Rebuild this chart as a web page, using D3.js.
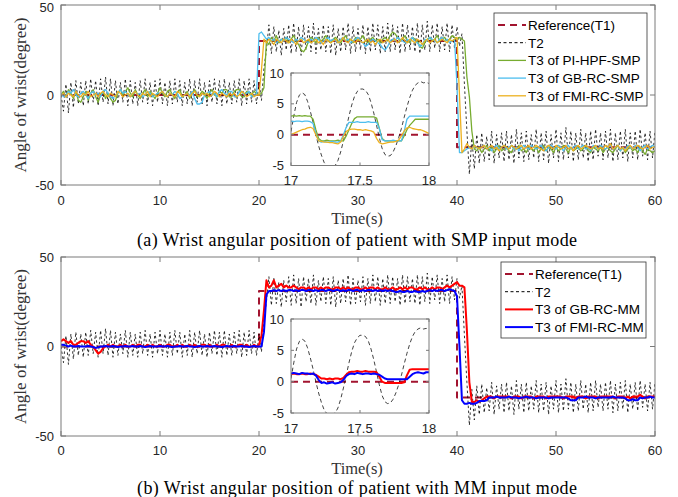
<!DOCTYPE html>
<html>
<head>
<meta charset="utf-8">
<script src="https://cdn.jsdelivr.net/npm/d3@7"></script>
<style>
body { margin: 0; background: #fff; }
</style>
</head>
<body>
<div id="chart"></div>
<script>
// values
// main plots: one sample every 0.25 s from 0 to 60 s
var timeStep = 0.25;
// insets: one sample every 0.02 s from 17 to 18 s
var insetStart = 17;
var insetStep = 0.02;

var refTimes = [0, 20, 20, 40, 40, 60];
var refA = [0, 0, 30, 30, -29, -29];
var refB = [0, 0, 31, 31, -28.5, -28.5];
var refInsetTimes = [17, 18];
var refInset = [0, 0];

// T2 (patient hand), alternating crests and troughs
var t2Main = [
  0, -9, 6, -10, 7, -7, 8, -5, 7, -6,
  8, -5, 9, -4, 8, -6, 9, -4, 10, -5,
  9, -6, 8, -5, 7, -4, 9, -6, 8, -5,
  7, -6, 8, -4, 9, -5, 7, -6, 8, -4,
  9, -5, 7, -6, 8, -5, 9, -4, 8, -6,
  7, -5, 9, -6, 8, -4, 9, -5, 7, -6,
  8, -4, 9, -5, 8, -6, 9, -5, 7, -5,
  8, -4, 9, -6, 8, -5, 9, -4, 8, -5,
  7, -3, 15, 25, 39, 23, 38, 24, 36, 22,
  37, 25, 39, 23, 40, 24, 38, 22, 39, 25,
  38, 24, 40, 23, 37, 25, 39, 24, 38, 23,
  39, 22, 37, 24, 38, 25, 40, 23, 38, 24,
  37, 25, 39, 23, 38, 24, 40, 25, 39, 23,
  38, 24, 40, 24, 39, 25, 38, 23, 40, 24,
  39, 25, 38, 24, 40, 23, 39, 25, 41, 24,
  39, 26, 40, 24, 38, 25, 40, 24, 39, 26,
  38, 27, 34, 6, -20, -44, -24, -41, -22, -38,
  -21, -37, -23, -36, -20, -38, -22, -35, -21, -37,
  -20, -36, -22, -38, -19, -35, -21, -37, -20, -36,
  -22, -35, -19, -37, -21, -36, -20, -38, -22, -35,
  -19, -37, -21, -36, -18, -35, -20, -37, -21, -36,
  -19, -35, -21, -37, -20, -36, -19, -34, -21, -36,
  -20, -35, -19, -37, -21, -36, -20, -35, -19, -37,
  -21, -35, -20, -36, -19, -34, -21, -36, -20, -35,
  -20
];

// T3 of PI-HPF-SMP
var greenA = [
  0, 2, -1, 3, 1, -2, 2, -3, -4, -1,
  2, -3, 1, 3, -1, -4, 0, 2, -2, 1,
  -2, -4, -3, 1, 3, 0, 2, 4, 1, -1,
  3, 0, -2, 1, 3, -1, 2, 0, -2, 1,
  4, 1, -1, 2, 3, 0, -2, 1, 3, -1,
  0, 2, -2, 1, 3, -1, 0, 2, 1, -2,
  1, 3, 0, -1, 2, 1, 3, 3, -1, -1,
  2, 3, 3, -1, -1, 2, 1, 0, 2, 1,
  0, 1, 4, 30, 28, 32, 30, 33, 29, 31,
  30, 32, 29, 31, 33, 30, 28, 25, 24, 26,
  30, 32, 31, 29, 32, 30, 31, 33, 30, 29,
  31, 32, 30, 29, 31, 33, 30, 31, 29, 32,
  30, 31, 33, 30, 29, 31, 32, 30, 31, 29,
  31, 32, 30, 33, 35, 34, 32, 30, 31, 33,
  30, 29, 32, 31, 30, 27, 26, 29, 31, 32,
  30, 31, 33, 30, 31, 32, 30, 31, 33, 32,
  31, 32, 31, 30, 10, -1, -20, -30, -31, -29,
  -32, -30, -28, -31, -29, -32, -30, -28, -31, -30,
  -29, -31, -32, -29, -30, -28, -31, -30, -32, -29,
  -30, -31, -29, -32, -30, -28, -31, -29, -30, -32,
  -29, -31, -30, -28, -30, -32, -29, -31, -30, -29,
  -31, -30, -28, -31, -32, -29, -30, -31, -29, -32,
  -30, -29, -31, -32, -30, -28, -31, -29, -32, -30,
  -29, -31, -30, -32, -29, -31, -33, -30, -31, -32,
  -31
];

// T3 of GB-RC-SMP
var cyanA = [
  1, -1, 0, 2, 1, 3, 0, -1, 1, 2,
  0, -2, 1, 2, 0, 1, -1, 2, 3, 1,
  -1, -2, 0, 1, 3, 1, 2, 0, -1, 1,
  2, 0, 1, -1, 0, 2, 1, -1, 0, 1,
  1, 2, 0, -1, 1, 0, 2, 1, -2, -1,
  0, 1, 0, 2, -2, -5, -5, -4, 0, 1,
  2, 0, 1, -1, 2, 3, 1, 0, 2, 2,
  -1, -1, 2, 2, 0, 1, 2, -1, 0, 0,
  34, 35, 33, 31, 32, 30, 31, 29, 30, 31,
  30, 32, 31, 30, 29, 31, 30, 32, 31, 30,
  29, 31, 30, 32, 31, 29, 30, 31, 32, 30,
  31, 30, 29, 31, 32, 30, 31, 29, 30, 31,
  32, 30, 29, 27, 28, 30, 31, 30, 29, 28,
  26, 25, 27, 30, 31, 30, 32, 31, 30, 29,
  31, 30, 32, 30, 29, 27, 28, 31, 30, 32,
  31, 30, 29, 31, 32, 30, 31, 29, 30, 31,
  5, -32, -32, -31, -30, -29, -30, -28, -29, -30,
  -29, -28, -30, -29, -31, -29, -28, -30, -29, -28,
  -30, -29, -28, -30, -29, -31, -29, -28, -29, -30,
  -28, -29, -30, -29, -28, -30, -31, -29, -28, -29,
  -30, -28, -29, -31, -29, -28, -30, -29, -28, -30,
  -29, -28, -30, -29, -31, -28, -29, -30, -28, -29,
  -30, -29, -28, -30, -29, -28, -31, -29, -30, -28,
  -29, -30, -28, -29, -31, -29, -28, -30, -29, -28,
  -29
];

// T3 of FMI-RC-SMP
var yellowA = [
  0, 1, -1, 1, 0, -1, 2, 0, -1, 1,
  0, 2, -1, 0, 1, -1, 1, 2, 0, -1,
  1, 0, -1, 2, 1, -1, 0, 1, -1, 1,
  2, 0, -1, 1, 0, 2, -1, 1, 0, -1,
  1, 2, 0, -1, 1, 0, -1, 2, 1, -1,
  0, 1, -1, 1, 2, 0, -1, 1, 0, 1,
  -1, 0, 2, 1, -1, 1, 0, -1, 1, 0,
  1, -1, 0, 2, 1, -1, 0, 1, -1, 0,
  0, 14, 31, 29, 31, 30, 28, 31, 30, 29,
  31, 30, 29, 31, 30, 28, 30, 31, 29, 30,
  31, 29, 30, 31, 29, 30, 28, 31, 30, 29,
  30, 31, 29, 30, 32, 30, 29, 31, 30, 29,
  31, 30, 29, 30, 31, 29, 30, 28, 30, 31,
  29, 30, 31, 29, 30, 31, 29, 30, 32, 30,
  29, 31, 30, 29, 31, 30, 28, 30, 31, 29,
  30, 31, 29, 30, 31, 30, 29, 31, 30, 31,
  32, 0, -32, -30, -27, -29, -30, -28, -29, -30,
  -29, -28, -30, -29, -28, -30, -29, -31, -29, -28,
  -29, -30, -28, -29, -30, -29, -28, -30, -29, -28,
  -30, -29, -28, -29, -30, -31, -29, -28, -29, -30,
  -28, -29, -30, -29, -28, -30, -29, -31, -29, -28,
  -30, -29, -28, -29, -30, -29, -28, -30, -29, -30,
  -28, -29, -27, -30, -29, -28, -30, -29, -31, -29,
  -28, -30, -29, -28, -29, -30, -29, -28, -30, -29,
  -29
];

// T3 of GB-RC-MM
var redB = [
  3, 4, 3, 2, 3, 1, 1, 2, 3, 3,
  2, 3, 1, 0, -2, -4, -3, -1, 0, 1,
  0, 1, 0, 0, 1, 0, 1, 0, 0, 1,
  0, 1, 1, 0, 0, 1, 0, 1, 0, 0,
  1, 0, 0, 1, 1, 0, 0, 1, 0, 1,
  0, 0, 1, 0, 1, 0, 0, 1, 1, 0,
  1, 0, 0, 1, 0, 1, 1, 0, 0, 1,
  0, 0, 1, 1, 0, 1, 0, 0, 1, 0,
  1, 6, 20, 37, 33, 34, 37, 33, 34, 35,
  33, 34, 33, 33, 34, 33, 32, 33, 33, 32,
  33, 32, 33, 33, 32, 33, 32, 33, 33, 32,
  32, 33, 33, 32, 33, 32, 33, 32, 32, 33,
  33, 32, 32, 33, 32, 33, 33, 32, 33, 32,
  32, 33, 32, 32, 33, 32, 32, 33, 32, 33,
  32, 33, 33, 32, 32, 33, 32, 33, 32, 32,
  33, 32, 33, 33, 32, 33, 34, 33, 34, 35,
  36, 34, 34, 33, 9, -20, -31, -31, -30, -31,
  -30, -29, -28, -28, -28, -29, -28, -28, -28, -28,
  -28, -28, -29, -28, -28, -28, -29, -28, -28, -28,
  -28, -29, -28, -28, -28, -28, -29, -28, -28, -28,
  -28, -28, -28, -29, -28, -28, -28, -28, -29, -28,
  -28, -28, -29, -28, -28, -28, -28, -29, -28, -28,
  -28, -28, -28, -28, -29, -28, -28, -28, -29, -28,
  -29, -28, -28, -28, -27, -28, -29, -28, -28, -28,
  -28
];

// T3 of FMI-RC-MM
var blueB = [
  1, 1, 0.5, 0, 0.5, 0, 0, 0.3, 0, 0,
  0, 0.3, 0, -0.3, -0.8, -0.5, 0, 0, 0.3, 0,
  0, 0.3, 0, -0.3, 0, 0, 0.3, 0, 0, 0.3,
  0, 0, 0.3, 0, -0.3, 0, 0.3, 0, 0, 0,
  0.3, 0, 0, 0.3, 0, -0.3, 0, 0, 0.3, 0,
  0, 0.3, 0, 0, -0.3, 0, 0.3, 0, 0, 0.3,
  0, 0, 0.3, 0, 0, -0.3, 0, 0.3, 0, 0,
  0.3, 0, 0, 0.3, 0, 0, -0.3, 0, 0.3, 0,
  0, 0, 8, 29, 31, 31, 31.5, 31, 31.5, 31,
  31.5, 31, 31.5, 31.5, 31, 31.5, 31, 31.5, 31.5, 31,
  31.5, 31.5, 31, 31.5, 31, 31.5, 31.5, 31, 31.5, 31.5,
  31, 31.5, 31.5, 31, 31.5, 31, 31.5, 31.5, 31, 31.5,
  31.5, 31, 31.5, 31, 31.5, 31.5, 31, 31.5, 31, 31.5,
  31, 31.5, 31, 31.5, 31, 30.5, 30.5, 31, 30.5, 30.5,
  31, 30.5, 30.5, 31, 30.5, 30.5, 31, 30.5, 31, 31.5,
  31, 31.5, 31, 31.5, 31.5, 31, 31.5, 32, 31.5, 31,
  28, 0, -30, -32, -32, -31.5, -32, -32, -31.5, -30.5,
  -30.5, -30.5, -30, -28.5, -28.5, -28.5, -28, -28.5, -28.5, -28.5,
  -28.5, -28, -28.5, -28.5, -28.5, -29, -28.5, -28.5, -28, -28.5,
  -28.5, -28.5, -29, -28.5, -28.5, -28.5, -28.5, -29, -28.5, -28.5,
  -28.5, -28.5, -28.5, -28.5, -28.5, -29, -30, -30, -30, -28.5,
  -28.5, -28.5, -28, -28.5, -28.5, -28.5, -29, -28.5, -28.5, -28.5,
  -28.5, -28.5, -28.5, -28, -28.5, -28.5, -28.5, -28.5, -29, -30,
  -30, -29.5, -30, -30, -28.5, -29, -28.5, -28.5, -28, -28.5,
  -28.5
];

// inset (17..18 s)
var insetT2 = [
  0.5, 3, 5.2, 6.4, 6.8, 6.5, 5.4, 3.8, 2, 0,
  -1.8, -3.3, -4.5, -5.1, -5.2, -5.2, -5, -4.2, -2.8, -1,
  1, 3, 4.8, 6.2, 7, 7.4, 7.4, 7.2, 6.5, 5.2,
  3.5, 1.5, -0.5, -2.2, -3.2, -3.5, -3.4, -2.8, -1.8, -0.5,
  1, 2.8, 4.5, 6, 7.2, 8, 8.4, 8.6, 8.4, 8.5,
  8.3
];
var insetGreenA = [
  3, 3.1, 3, 3.1, 3, 3.1, 3, 3, 2.5, 0.8,
  -0.6, -1, -1, -0.9, -1, -1, -1, -0.9, -1, -1,
  -0.2, 0.8, 1.8, 2.6, 2.9, 2.9, 2.9, 2.9, 2.9, 2.9,
  2.9, 2.7, 1, -0.6, -1, -1, -1, -1, -1, -1,
  -1, -0.2, 0.8, 1.5, 2, 2.5, 2.5, 2.5, 2.5, 2.5,
  2.5
];
var insetCyanA = [
  2.2, 2.1, 2.2, 2.2, 2.1, 2.2, 2.2, 2.1, 1.8, 0.2,
  -1, -1.2, -1.1, -1.2, -1.2, -1.1, -1.2, -1.2, -1, 0,
  1.2, 2, 2, 2, 2.1, 2, 2, 2, 2.1, 2,
  2, 2, 1, -0.8, -1, -1, -1, -0.9, -1, -1,
  -1, 0.5, 2.5, 3, 3, 3, 3, 3, 3, 3,
  3
];
var insetYellowA = [
  0, 0.2, 0.4, 0.6, 0.8, 0.9, 1.1, 1.2, 1, 0,
  -1, -1.1, -1.2, -1.2, -1.3, -1.3, -1.4, -1.5, -1.2, -0.3,
  0.5, 0.8, 0.9, 0.9, 0.8, 0.8, 0.7, 0.8, 0.7, 0.6,
  0.4, -0.6, -1.3, -1.5, -1.4, -1.3, -1.2, -1.2, -1.1, -0.9,
  -0.2, 0.6, 1.1, 1.2, 1, 0.9, 0.8, 0.8, 0.6, 0.4,
  0.2
];
var insetRedB = [
  1.2, 1.3, 1.2, 1.2, 1.3, 1.2, 1.2, 1.3, 1.2, 1.1,
  0.8, 0.5, 0.5, 0.4, 0.5, 0.4, 0.5, 0.5, 0.4, 0.6,
  1.1, 1.5, 1.6, 1.6, 1.7, 1.6, 1.6, 1.7, 1.6, 1.6,
  1.6, 1.5, 0.8, 0, -0.2, -0.2, -0.2, -0.2, -0.2, -0.2,
  -0.2, -0.1, 1, 1.9, 2, 2, 2, 2, 2, 2,
  2
];
var insetBlueB = [
  1.3, 1.4, 1.3, 1.2, 1.4, 1.3, 1.3, 1.2, 1.3, 1,
  0.3, -0.2, -0.1, -0.3, -0.2, -0.1, -0.3, -0.2, -0.1, 0.3,
  0.9, 1.2, 1.3, 1.2, 1.4, 1.3, 1.2, 1.3, 1.3, 1.2,
  1.3, 1.2, 1.1, 0.8, 0.5, 0.4, 0.4, 0.4, 0.4, 0.4,
  0.4, 0.4, 0.4, 0.8, 1.2, 1.4, 1.5, 1.4, 1.3, 1.5,
  1.5
];

var xTicks = [0, 10, 20, 30, 40, 50, 60];
var yTicks = [-50, 0, 50];
var insetXTicks = [17, 17.5, 18];
var insetYTicks = [-5, 0, 5, 10];

var legendA = ["Reference(T1)", "T2", "T3 of PI-HPF-SMP", "T3 of GB-RC-SMP", "T3 of FMI-RC-SMP"];
var legendB = ["Reference(T1)", "T2", "T3 of GB-RC-MM", "T3 of FMI-RC-MM"];
var yLabel = "Angle of wrist(degree)";
var xLabel = "Time(s)";
var captionA = "(a) Wrist angular position of patient with SMP input mode";
var captionB = "(b) Wrist angular position of patient with MM input mode";

// line styles, MATLAB-ish colours
var styles = {
  ref: { color: "#A2142F", width: 2, dash: "7,5" },
  t2: { color: "#000", width: 0.8, dash: "2.5,2.5", legendDash: "3,2.5" },
  t2i: { color: "#111", width: 0.8, dash: "4,3" },
  green: { color: "#77AC30", width: 1.3 },
  cyan: { color: "#4DBEEE", width: 1.3 },
  yellow: { color: "#EDB120", width: 1.3 },
  red: { color: "#FF0000", width: 2 },
  blue: { color: "#0000FF", width: 2 }
};

var sansFont = "'Liberation Sans', Arial, Helvetica, sans-serif";
var serifFont = "'Liberation Serif', 'Times New Roman', serif";

function sampled(vals, t0, step) {
  return vals.map(function (v, i) { return [t0 + i * step, v]; });
}
function paired(ts, vals) {
  return ts.map(function (t, i) { return [t, vals[i]]; });
}

var svg = d3.select("#chart").append("svg")
  .attr("width", 678)
  .attr("height", 497);

var clipCount = 0;

// draws box + mirrored inward ticks + tick labels, returns clipped group for the lines
function drawAxes(g, x, y, xt, yt, tickLen, labelGap) {
  var l = x.range()[0], r = x.range()[1], b = y.range()[0], t = y.range()[1];

  g.append("rect")
    .attr("x", l).attr("y", t)
    .attr("width", r - l).attr("height", b - t)
    .attr("fill", "#fff");

  clipCount++;
  var id = "clip" + clipCount;
  g.append("clipPath").attr("id", id)
    .append("rect")
    .attr("x", l).attr("y", t)
    .attr("width", r - l).attr("height", b - t);
  var plot = g.append("g").attr("clip-path", "url(#" + id + ")");

  var frame = g.append("g");
  frame.append("rect")
    .attr("x", l).attr("y", t)
    .attr("width", r - l).attr("height", b - t)
    .attr("fill", "none")
    .attr("stroke", "#7a7a7a")
    .attr("stroke-width", 1);

  xt.forEach(function (v) {
    frame.append("line")
      .attr("x1", x(v)).attr("x2", x(v))
      .attr("y1", b).attr("y2", b - tickLen)
      .attr("stroke", "#7a7a7a");
    frame.append("line")
      .attr("x1", x(v)).attr("x2", x(v))
      .attr("y1", t).attr("y2", t + tickLen)
      .attr("stroke", "#7a7a7a");
    frame.append("text")
      .attr("x", x(v)).attr("y", b + labelGap)
      .attr("text-anchor", "middle")
      .attr("font-family", sansFont)
      .attr("font-size", 13)
      .attr("fill", "#262626")
      .text(v);
  });
  yt.forEach(function (v) {
    frame.append("line")
      .attr("x1", l).attr("x2", l + tickLen)
      .attr("y1", y(v)).attr("y2", y(v))
      .attr("stroke", "#7a7a7a");
    frame.append("line")
      .attr("x1", r).attr("x2", r - tickLen)
      .attr("y1", y(v)).attr("y2", y(v))
      .attr("stroke", "#7a7a7a");
    frame.append("text")
      .attr("x", l - 7).attr("y", Math.max(y(v) + 4.5, 12))
      .attr("text-anchor", "end")
      .attr("font-family", sansFont)
      .attr("font-size", 13)
      .attr("fill", "#262626")
      .text(v);
  });
  return plot;
}

function drawLines(plot, x, y, series) {
  var line = d3.line()
    .x(function (d) { return x(d[0]); })
    .y(function (d) { return y(d[1]); });
  series.forEach(function (s) {
    var st = styles[s.style];
    plot.append("path")
      .datum(s.points)
      .attr("d", line)
      .attr("fill", "none")
      .attr("stroke", st.color)
      .attr("stroke-width", st.width)
      .attr("stroke-dasharray", st.dash || null)
      .attr("stroke-linejoin", "round");
  });
}

function drawPanel(p) {
  var g = svg.append("g");

  var x = d3.scaleLinear().domain([0, 60]).range([61, 655]);
  var y = d3.scaleLinear().domain([-50, 50]).range([p.bottom, p.top]);
  var plot = drawAxes(g, x, y, xTicks, yTicks, 5, p.tickGap);
  drawLines(plot, x, y, p.series);

  // inset
  var ix = d3.scaleLinear().domain([17, 18]).range([291, 429]);
  var iy = d3.scaleLinear().domain([-5, 10]).range([p.insetBottom, p.insetTop]);
  var iplot = drawAxes(g, ix, iy, insetXTicks, insetYTicks, 3, 19.5);
  drawLines(iplot, ix, iy, p.insetSeries);

  // legend
  var lg = g.append("g");
  lg.append("rect")
    .attr("x", p.legend.x).attr("y", p.legend.y)
    .attr("width", p.legend.w).attr("height", p.legend.h)
    .attr("fill", "#fff")
    .attr("stroke", "#333")
    .attr("stroke-width", 0.8);
  p.legend.labels.forEach(function (lab, i) {
    var st = styles[p.series[i].style];
    var cy = p.legend.y + 12 + i * 17.7;
    lg.append("line")
      .attr("x1", p.legend.x + 4).attr("x2", p.legend.x + 32)
      .attr("y1", cy).attr("y2", cy)
      .attr("stroke", st.color)
      .attr("stroke-width", st.legendDash ? 1 : st.width)
      .attr("stroke-dasharray", st.legendDash || st.dash || null);
    lg.append("text")
      .attr("x", p.legend.x + 34).attr("y", cy + 4.8)
      .attr("font-family", sansFont)
      .attr("font-size", 13.5)
      .attr("fill", "#000")
      .text(lab);
  });

  // axis labels + caption
  g.append("text")
    .attr("transform", "translate(26," + ((p.top + p.bottom) / 2) + ") rotate(-90)")
    .attr("text-anchor", "middle")
    .attr("font-family", serifFont)
    .attr("font-size", 17)
    .attr("fill", "#333")
    .text(yLabel);
  g.append("text")
    .attr("x", 357).attr("y", p.xLabelY)
    .attr("text-anchor", "middle")
    .attr("font-family", serifFont)
    .attr("font-size", 16.5)
    .attr("fill", "#333")
    .text(xLabel);
  g.append("text")
    .attr("x", 357).attr("y", p.captionY)
    .attr("text-anchor", "middle")
    .attr("font-family", serifFont)
    .attr("font-size", 18)
    .attr("textLength", 440)
    .attr("lengthAdjust", "spacing")
    .attr("fill", "#000")
    .text(p.caption);
}

drawPanel({
  top: 5, bottom: 185,
  insetTop: 73, insetBottom: 165.5,
  tickGap: 20,
  xLabelY: 224,
  captionY: 246,
  caption: captionA,
  series: [
    { style: "ref", points: paired(refTimes, refA) },
    { style: "t2", points: sampled(t2Main, 0, timeStep) },
    { style: "green", points: sampled(greenA, 0, timeStep) },
    { style: "cyan", points: sampled(cyanA, 0, timeStep) },
    { style: "yellow", points: sampled(yellowA, 0, timeStep) }
  ],
  insetSeries: [
    { style: "ref", points: paired(refInsetTimes, refInset) },
    { style: "t2i", points: sampled(insetT2, insetStart, insetStep) },
    { style: "green", points: sampled(insetGreenA, insetStart, insetStep) },
    { style: "cyan", points: sampled(insetCyanA, insetStart, insetStep) },
    { style: "yellow", points: sampled(insetYellowA, insetStart, insetStep) }
  ],
  legend: { x: 494, y: 13, w: 153, h: 93, labels: legendA }
});

drawPanel({
  top: 257, bottom: 436,
  insetTop: 319, insetBottom: 413,
  tickGap: 19,
  xLabelY: 473.5,
  captionY: 493.5,
  caption: captionB,
  series: [
    { style: "ref", points: paired(refTimes, refB) },
    { style: "t2", points: sampled(t2Main, 0, timeStep) },
    { style: "red", points: sampled(redB, 0, timeStep) },
    { style: "blue", points: sampled(blueB, 0, timeStep) }
  ],
  insetSeries: [
    { style: "ref", points: paired(refInsetTimes, refInset) },
    { style: "t2i", points: sampled(insetT2, insetStart, insetStep) },
    { style: "red", points: sampled(insetRedB, insetStart, insetStep) },
    { style: "blue", points: sampled(insetBlueB, insetStart, insetStep) }
  ],
  legend: { x: 501, y: 262, w: 145, h: 76, labels: legendB }
});
</script>
</body>
</html>
